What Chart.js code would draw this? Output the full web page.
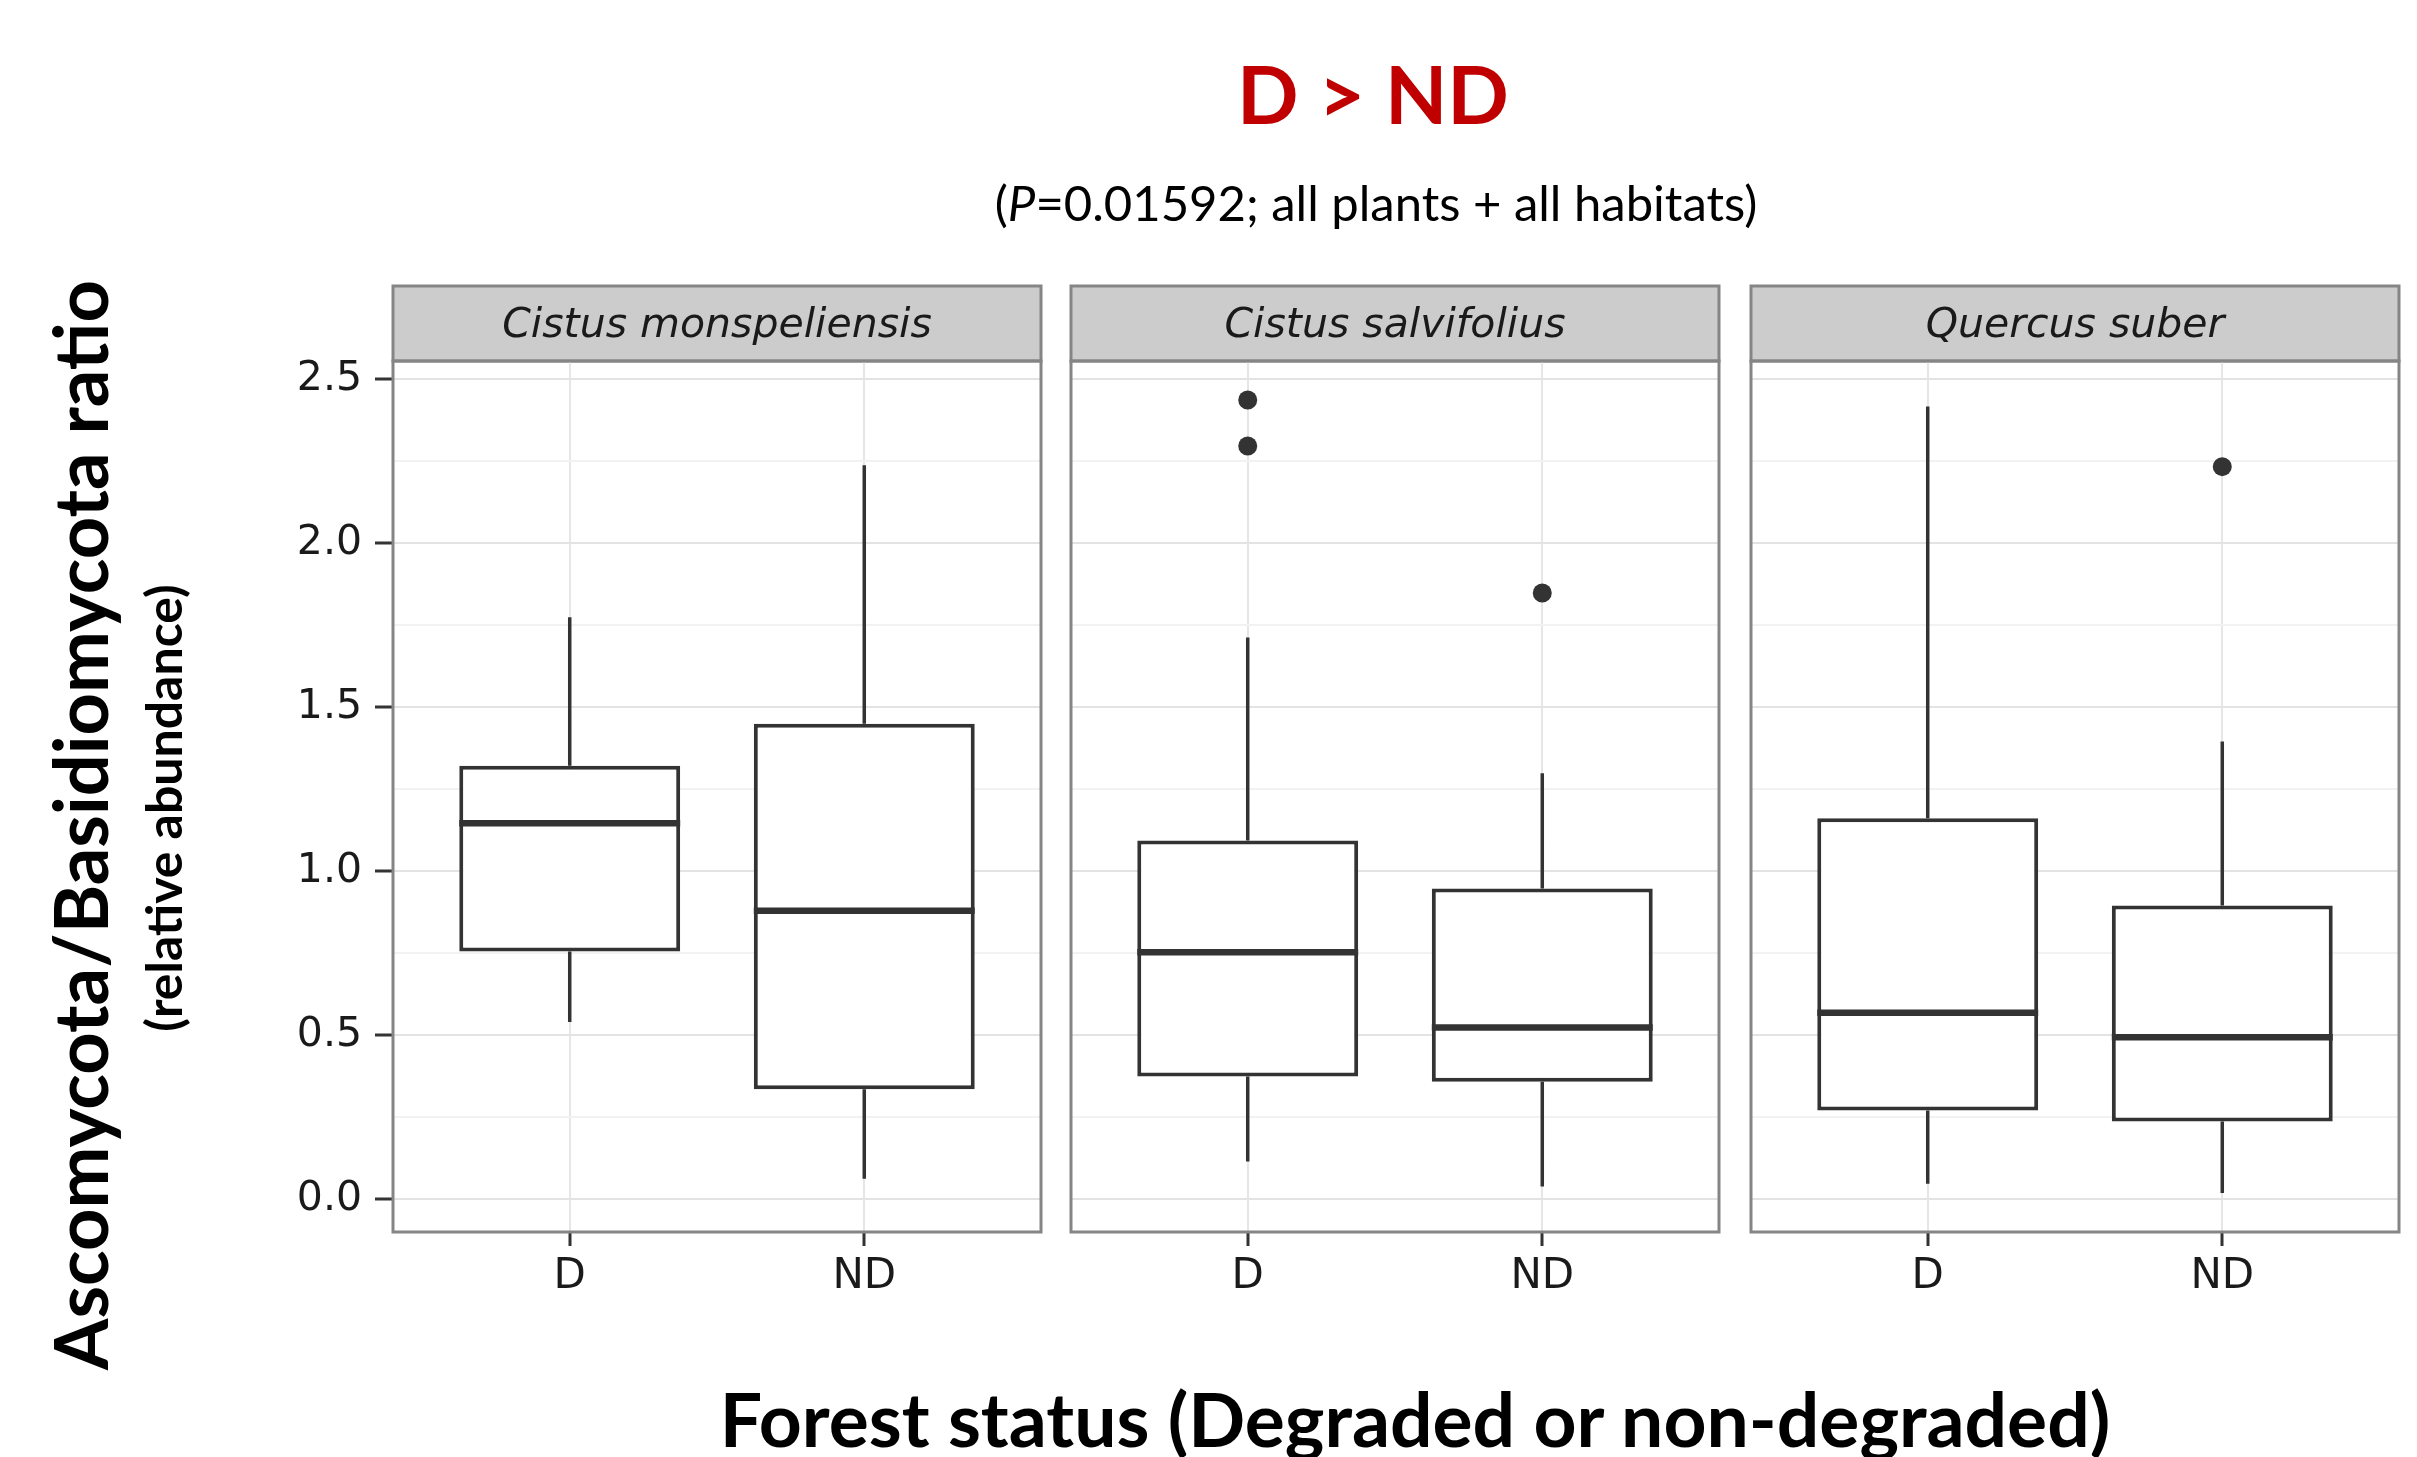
<!DOCTYPE html>
<html>
<head>
<meta charset="utf-8">
<script src="https://cdn.jsdelivr.net/npm/chart.js@4.4.0/dist/chart.umd.min.js"></script>
<style>
  body { margin: 0; background: #fff; }
  #page { position: relative; width: 2417px; height: 1457px; overflow: hidden; background: #fff; font-family: Lato, sans-serif; }
  .txt { position: absolute; white-space: nowrap; line-height: 1; transform: translate(-50%, -50%); }
  canvas { position: absolute; }
</style>
</head>
<body>
<div id="page">
  <div class="txt" style="left:1373px; top:92px; font-size:81px; font-weight:bold; color:#C00000;">D &gt; ND</div>
  <div class="txt" style="left:1376px; top:202px; font-size:49px; color:#000;">(<i>P</i>=0.01592; all plants + all habitats)</div>
  <div class="txt" style="left:80px; top:825px; font-size:74px; font-weight:bold; color:#000; transform:translate(-50%,-50%) rotate(-90deg);">Ascomycota/Basidiomycota ratio</div>
  <div class="txt" style="left:163px; top:808px; font-size:50px; font-weight:bold; color:#000; transform:translate(-50%,-50%) rotate(-90deg);">(relative abundance)</div>
  <div class="txt" style="left:1415px; top:1418px; font-size:75px; font-weight:bold; color:#000;">Forest status (Degraded or non-degraded)</div>
  <canvas id="c0"></canvas>
  <canvas id="c1"></canvas>
  <canvas id="c2"></canvas>
</div>
<script>
// data
const panels = ['Cistus monspeliensis', 'Cistus salvifolius', 'Quercus suber']
const statuses = ['D', 'ND']
const whiskerLow  = [[0.540, 0.062], [0.115, 0.039], [0.047, 0.019]]
const q1          = [[0.755, 0.335], [0.374, 0.358], [0.270, 0.237]]
const medians     = [[1.146, 0.879], [0.753, 0.523], [0.568, 0.494]]
const q3          = [[1.321, 1.449], [1.093, 0.947], [1.161, 0.895]]
const whiskerHigh = [[1.774, 2.237], [1.712, 1.298], [2.416, 1.395]]
const outliers    = [[[], []], [[2.436, 2.296], [1.848]], [[], [2.233]]]
const yTicks = [0, 0.5, 1, 1.5, 2, 2.5]

// layout
const panelLefts = [393, 1071, 1751]
const panelWidth = 648
const axisW = 120, axisH = 80, padR = 4
const canvasTop = 284
const dark = '#333333'
const frame = '#858585'
const boxHalf = 0.375

// major + minor gridlines
let yGrid = []
yTicks.forEach((v, k) => {
    yGrid.push(v)
    if (k < yTicks.length - 1) yGrid.push((v + yTicks[k + 1]) / 2)
})
const isMajor = v => yTicks.some(t => Math.abs(t - v) < 1e-9)

// grey strip behind the facet title + panel frame
const panelDecor = {
    id: 'panelDecor',
    beforeDraw(chart) {
        const ctx = chart.ctx, a = chart.chartArea, t = chart.titleBlock
        ctx.save()
        ctx.fillStyle = '#cccccc'
        ctx.fillRect(a.left, t.top, a.right - a.left, a.top - t.top)
        ctx.strokeStyle = frame
        ctx.lineWidth = 3
        ctx.strokeRect(a.left, t.top, a.right - a.left, a.top - t.top)
        ctx.restore()
    },
    afterDraw(chart) {
        const ctx = chart.ctx, a = chart.chartArea
        ctx.save()
        ctx.strokeStyle = frame
        ctx.lineWidth = 3
        ctx.strokeRect(a.left, a.top, a.right - a.left, a.bottom - a.top)
        ctx.restore()
    }
}

function segLine(segs) {
    let pts = []
    segs.forEach(s => {
        pts.push({x: s[0], y: s[1]}, {x: s[2], y: s[3]}, {x: s[2], y: null})
    })
    return pts
}

panels.forEach((name, i) => {
    const cv = document.getElementById('c' + i)
    cv.width = axisW + panelWidth + padR
    cv.height = 1232 - canvasTop + axisH
    cv.style.left = (panelLefts[i] - axisW) + 'px'
    cv.style.top = canvasTop + 'px'

    let whiskers = [], meds = [], outPts = []
    statuses.forEach((s, k) => {
        const x = k + 1
        whiskers.push([x, q3[i][k], x, whiskerHigh[i][k]], [x, q1[i][k], x, whiskerLow[i][k]])
        meds.push([x - boxHalf, medians[i][k], x + boxHalf, medians[i][k]])
        outliers[i][k].forEach(v => outPts.push({x: x, y: v}))
    })

    new Chart(cv, {
        type: 'bar',
        data: {
            datasets: [
                {
                    type: 'line', data: segLine(meds), borderColor: dark, borderWidth: 6.5,
                    pointRadius: 0, spanGaps: false, order: 0
                },
                {
                    type: 'line', data: outPts, showLine: false, pointRadius: 9.5,
                    pointBackgroundColor: dark, pointBorderWidth: 0, order: 1
                },
                {
                    type: 'bar',
                    data: statuses.map((s, k) => ({x: k + 1, y: [q1[i][k], q3[i][k]]})),
                    backgroundColor: '#ffffff', borderColor: dark, borderWidth: 4,
                    borderSkipped: false, barPercentage: 0.75, categoryPercentage: 1, order: 2
                },
                {
                    type: 'line', data: segLine(whiskers), borderColor: dark, borderWidth: 3.5,
                    pointRadius: 0, spanGaps: false, order: 3
                }
            ]
        },
        options: {
            responsive: false,
            animation: false,
            devicePixelRatio: 1,
            layout: {autoPadding: false, padding: {top: 2, left: 0, right: padR, bottom: 0}},
            plugins: {
                legend: {display: false},
                tooltip: {enabled: false},
                title: {
                    display: true, text: name, fullSize: false, color: '#1a1a1a',
                    padding: {top: 6, bottom: 0},
                    font: {family: 'DejaVu Sans', size: 41, style: 'italic', weight: 'normal', lineHeight: 69 / 41}
                }
            },
            scales: {
                x: {
                    type: 'linear', min: 0.4, max: 2.6, offset: false,
                    afterBuildTicks: s => { s.ticks = statuses.map((_, k) => ({value: k + 1})) },
                    afterFit: s => { s.height = axisH; s.paddingLeft = 0; s.paddingRight = 0 },
                    border: {display: false},
                    grid: {offset: false, color: '#e6e6e6', lineWidth: 2, tickLength: 14, tickWidth: 3, tickColor: dark},
                    ticks: {
                        padding: 6, color: '#1a1a1a', maxRotation: 0,
                        font: {family: 'DejaVu Sans', size: 42},
                        callback: v => statuses[Math.round(v) - 1] || ''
                    }
                },
                y: {
                    min: -0.1, max: 2.555,
                    afterBuildTicks: s => { s.ticks = yGrid.map(v => ({value: v})) },
                    afterFit: s => { s.width = axisW },
                    border: {display: false},
                    grid: {
                        color: c => isMajor(c.tick.value) ? '#e3e3e3' : '#f2f2f2',
                        lineWidth: 2,
                        tickLength: 18, tickWidth: 3,
                        tickColor: c => (i === 0 && isMajor(c.tick.value)) ? dark : 'rgba(0,0,0,0)'
                    },
                    ticks: {
                        padding: 13, color: '#1a1a1a',
                        font: {family: 'DejaVu Sans', size: 41},
                        callback: v => (i === 0 && isMajor(v)) ? v.toFixed(1) : ''
                    }
                }
            }
        },
        plugins: [panelDecor]
    })
})
</script>
</body>
</html>
